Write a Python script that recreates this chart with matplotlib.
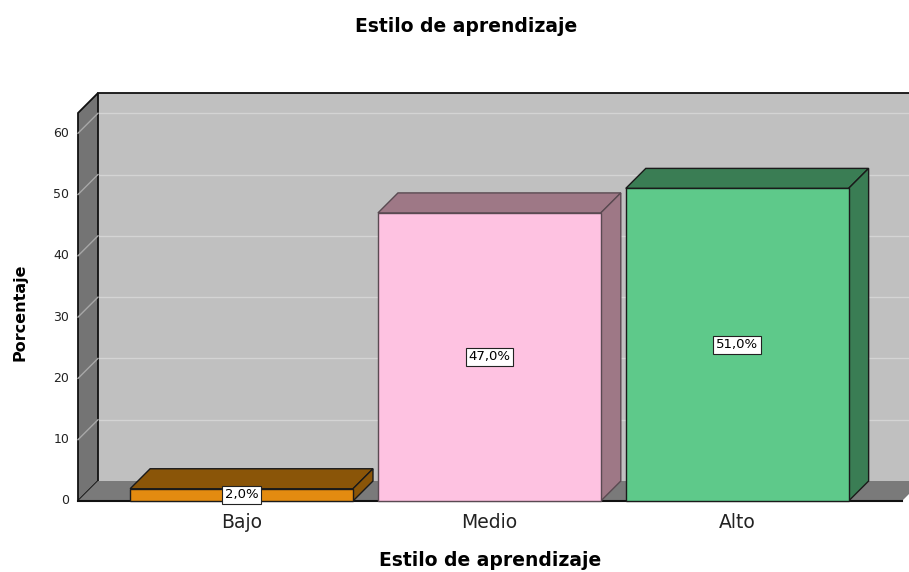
import matplotlib
matplotlib.use("Agg")
import matplotlib.pyplot as plt
from matplotlib.patches import Polygon

categories = ["Bajo", "Medio", "Alto"]
values = [2.0, 47.0, 51.0]
labels = ["2,0%", "47,0%", "51,0%"]
yticks = [0, 10, 20, 30, 40, 50, 60]
title = "Estilo de aprendizaje"
xlabel = "Estilo de aprendizaje"
ylabel = "Porcentaje"

front_colors = ["#e38b10", "#fec2e1", "#5ec98a"]
side_colors = ["#8a5508", "#9e7886", "#3a7d54"]
edge_colors = ["#1a1a1a", "#5a4a52", "#1a1a1a"]

W, H = 909, 572
fig = plt.figure(figsize=(W / 100, H / 100), dpi=100)
fig.patch.set_facecolor("white")

# front plane in pixels
px_left, px_right, px_bottom, px_top = 78, 902, 501, 113
ax = fig.add_axes([px_left / W, 1 - px_bottom / H,
                   (px_right - px_left) / W, (px_bottom - px_top) / H])
x0, x1 = -0.66, 2.665
y0, y1 = 0, 63.3
ax.set_xlim(x0, x1)
ax.set_ylim(y0, y1)
ax.axis("off")

# depth offsets in data units (20 px right, 20 px up)
dx = 20 * (x1 - x0) / (px_right - px_left)
dy = 20 * (y1 - y0) / (px_bottom - px_top)

kw = dict(clip_on=False)
# back wall
ax.add_patch(Polygon([(x0 + dx, dy), (x1 + dx, dy), (x1 + dx, y1 + dy), (x0 + dx, y1 + dy)],
                     closed=True, facecolor="#c0c0c0", edgecolor="none", zorder=1, **kw))
for t in yticks[1:]:
    ax.plot([x0 + dx, x1 + dx], [t + dy, t + dy], color="#d4d4d4", lw=1.0, zorder=2, **kw)
# left wall
ax.add_patch(Polygon([(x0, 0), (x0 + dx, dy), (x0 + dx, y1 + dy), (x0, y1)],
                     closed=True, facecolor="#747474", edgecolor="#111111", lw=1.3, zorder=3, **kw))
for t in yticks[1:]:
    ax.plot([x0, x0 + dx], [t, t + dy], color="#a8a8a8", lw=1.0, zorder=3.5, **kw)
# floor
ax.add_patch(Polygon([(x0, 0), (x1, 0), (x1 + dx, dy), (x0 + dx, dy)],
                     closed=True, facecolor="#7a7a7a", edgecolor="none", zorder=3, **kw))
ax.plot([x0, x1], [0, 0], color="#111111", lw=1.5, zorder=4, **kw)
ax.plot([x0 + dx, x1 + dx], [y1 + dy, y1 + dy], color="#111111", lw=1.3, zorder=4, **kw)

# bars
bw = 223 / 248
for i, (v, lab) in enumerate(zip(values, labels)):
    l, r = i - bw / 2, i + bw / 2
    ec = edge_colors[i]
    ax.add_patch(Polygon([(l, 0), (r, 0), (r, v), (l, v)], closed=True,
                         facecolor=front_colors[i], edgecolor=ec, lw=1.0, zorder=6, **kw))
    ax.add_patch(Polygon([(l, v), (r, v), (r + dx, v + dy), (l + dx, v + dy)], closed=True,
                         facecolor=side_colors[i], edgecolor=ec, lw=1.0, zorder=5, **kw))
    ax.add_patch(Polygon([(r, 0), (r + dx, dy), (r + dx, v + dy), (r, v)], closed=True,
                         facecolor=side_colors[i], edgecolor=ec, lw=1.0, zorder=5, **kw))
    ax.text(i, v / 2, lab, ha="center", va="center", fontsize=9.5, family="DejaVu Sans",
            zorder=8, bbox=dict(boxstyle="square,pad=0.2", facecolor="white",
                                edgecolor="#222222", lw=0.8))
    ax.text(i, -1.9, categories[i], ha="center", va="top", fontsize=13.5,
            color="#222222", family="DejaVu Sans")

for t in yticks:
    ax.text(x0 - 0.035, t, str(t), ha="right", va="center", fontsize=9,
            color="#222222", family="DejaVu Sans")

fig.text(466 / W, 1 - 26 / H, title, ha="center", va="center", fontsize=13.5,
         fontweight="bold", family="DejaVu Sans")
fig.text(490 / W, 1 - 561 / H, xlabel, ha="center", va="center", fontsize=13.5,
         fontweight="bold", family="DejaVu Sans")
fig.text(20 / W, 1 - 312 / H, ylabel, ha="center", va="center", rotation=90,
         fontsize=11.5, fontweight="bold", family="DejaVu Sans")

fig.savefig("out.png", dpi=100)
